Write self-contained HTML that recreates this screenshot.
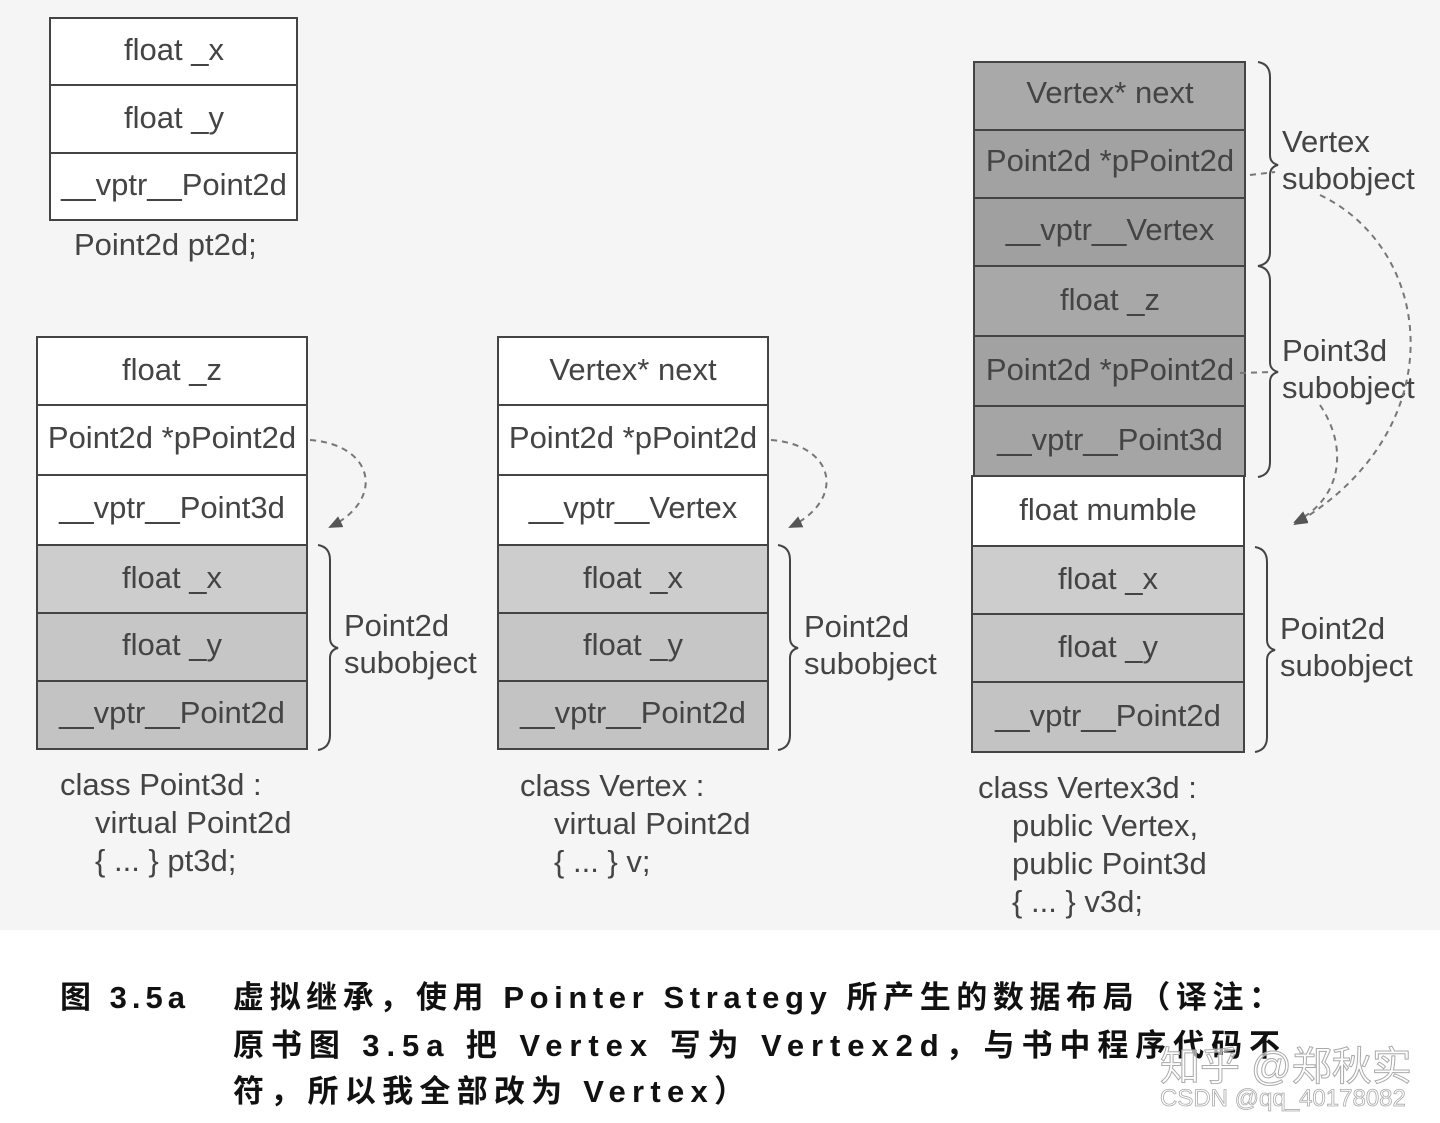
<!DOCTYPE html>
<html><head><meta charset="utf-8"><style>
html,body{margin:0;padding:0;background:#fff;width:1440px;height:1123px;overflow:hidden}
svg{display:block}
.t{font-family:"Liberation Sans",sans-serif;font-size:31px;fill:#444}
.c{font-family:"Liberation Sans","Noto Sans CJK SC",sans-serif;font-size:31px;font-weight:bold;fill:#111}
</style></head><body>
<svg width="1440" height="1123" viewBox="0 0 1440 1123" xmlns="http://www.w3.org/2000/svg">
<defs>
<marker id="ah" markerWidth="14" markerHeight="12" refX="12" refY="6" orient="auto" markerUnits="userSpaceOnUse">
<path d="M0,0 L14,6 L0,12 Z" fill="#555"/></marker>
</defs>
<rect x="0" y="0" width="1440" height="930" fill="#f5f5f5"/>
<g stroke="#444" stroke-width="2">
<rect x="50" y="18" width="247" height="67" fill="#fff"/>
<rect x="50" y="85" width="247" height="68" fill="#fff"/>
<rect x="50" y="153" width="247" height="67" fill="#fff"/>
<rect x="37" y="337" width="270" height="68" fill="#fff"/>
<rect x="37" y="405" width="270" height="70" fill="#fff"/>
<rect x="37" y="475" width="270" height="70" fill="#fff"/>
<rect x="37" y="545" width="270" height="68" fill="#cdcdcd"/>
<rect x="37" y="613" width="270" height="68" fill="#c6c6c6"/>
<rect x="37" y="681" width="270" height="68" fill="#c3c3c3"/>
<rect x="498" y="337" width="270" height="68" fill="#fff"/>
<rect x="498" y="405" width="270" height="70" fill="#fff"/>
<rect x="498" y="475" width="270" height="70" fill="#fff"/>
<rect x="498" y="545" width="270" height="68" fill="#cdcdcd"/>
<rect x="498" y="613" width="270" height="68" fill="#c6c6c6"/>
<rect x="498" y="681" width="270" height="68" fill="#c3c3c3"/>
<rect x="974" y="62" width="271" height="68" fill="#a9a9a9"/>
<rect x="974" y="130" width="271" height="68" fill="#a2a2a2"/>
<rect x="974" y="198" width="271" height="68" fill="#a0a0a0"/>
<rect x="974" y="266" width="271" height="70" fill="#a8a8a8"/>
<rect x="974" y="336" width="271" height="70" fill="#a2a2a2"/>
<rect x="974" y="406" width="271" height="70" fill="#a5a5a5"/>
<rect x="972" y="476" width="272" height="70" fill="#fff"/>
<rect x="972" y="546" width="272" height="68" fill="#cdcdcd"/>
<rect x="972" y="614" width="272" height="68" fill="#c6c6c6"/>
<rect x="972" y="682" width="272" height="70" fill="#c3c3c3"/>
</g>
<g class="t" text-anchor="middle">
<text x="174" y="60">float _x</text>
<text x="174" y="128">float _y</text>
<text x="174" y="195">__vptr__Point2d</text>
<text x="172" y="380">float _z</text>
<text x="172" y="448">Point2d *pPoint2d</text>
<text x="172" y="518">__vptr__Point3d</text>
<text x="172" y="588">float _x</text>
<text x="172" y="655">float _y</text>
<text x="172" y="723">__vptr__Point2d</text>
<text x="633" y="380">Vertex* next</text>
<text x="633" y="448">Point2d *pPoint2d</text>
<text x="633" y="518">__vptr__Vertex</text>
<text x="633" y="588">float _x</text>
<text x="633" y="655">float _y</text>
<text x="633" y="723">__vptr__Point2d</text>
<text x="1110" y="103">Vertex* next</text>
<text x="1110" y="171">Point2d *pPoint2d</text>
<text x="1110" y="240">__vptr__Vertex</text>
<text x="1110" y="310">float _z</text>
<text x="1110" y="380">Point2d *pPoint2d</text>
<text x="1110" y="450">__vptr__Point3d</text>
<text x="1108" y="520">float mumble</text>
<text x="1108" y="589">float _x</text>
<text x="1108" y="657">float _y</text>
<text x="1108" y="726">__vptr__Point2d</text>
</g>
<g class="t">
<text x="74" y="255">Point2d pt2d;</text>
<text x="344" y="636">Point2d</text><text x="344" y="673">subobject</text>
<text x="804" y="637">Point2d</text><text x="804" y="674">subobject</text>
<text x="1282" y="152">Vertex</text><text x="1282" y="189">subobject</text>
<text x="1282" y="361">Point3d</text><text x="1282" y="398">subobject</text>
<text x="1280" y="639">Point2d</text><text x="1280" y="676">subobject</text>
<text x="60" y="795">class Point3d :</text>
<text x="95" y="833">virtual Point2d</text>
<text x="95" y="871">{ ... } pt3d;</text>
<text x="520" y="796">class Vertex :</text>
<text x="554" y="834">virtual Point2d</text>
<text x="554" y="872">{ ... } v;</text>
<text x="978" y="798">class Vertex3d :</text>
<text x="1012" y="836">public Vertex,</text>
<text x="1012" y="874">public Point3d</text>
<text x="1012" y="912">{ ... } v3d;</text>
</g>
<g fill="none" stroke="#444" stroke-width="2">
<path d="M318,545 Q330,547 330,560 L330,638 Q330,646 338,648 Q330,650 330,658 L330,735 Q330,748 318,750"/>
<path d="M778,545 Q790,547 790,560 L790,638 Q790,646 798,648 Q790,650 790,658 L790,735 Q790,748 778,750"/>
<path d="M1258,62 Q1270,64 1270,77 L1270,155 Q1270,163 1278,165 Q1270,167 1270,175 L1270,252 Q1270,264 1258,266 Q1270,268 1270,281 L1270,362 Q1270,370 1278,372 Q1270,374 1270,382 L1270,462 Q1270,475 1258,477"/>
<path d="M1255,547 Q1267,549 1267,562 L1267,640 Q1267,648 1275,650 Q1267,652 1267,660 L1267,737 Q1267,750 1255,752"/>
</g>
<g fill="none" stroke="#777" stroke-width="2" stroke-dasharray="6,5">
<path d="M310,440 C375,445 385,500 330,527" marker-end="url(#ah)"/>
<path d="M771,440 C836,445 846,500 790,527" marker-end="url(#ah)"/>
<path d="M1250,175 L1275,172"/>
<path d="M1320,195 C1435,250 1455,430 1295,524" marker-end="url(#ah)"/>
<path d="M1240,373 L1272,372"/>
<path d="M1320,405 C1350,450 1340,500 1295,522" marker-end="url(#ah)"/>
</g>
<g class="c">
<text x="60" y="1008" textLength="125" lengthAdjust="spacing">图 3.5a</text>
<text x="233" y="1008" textLength="1047" lengthAdjust="spacing">虚拟继承，使用  Pointer Strategy 所产生的数据布局（译注：</text>
<text x="233" y="1056" textLength="1047" lengthAdjust="spacing">原书图 3.5a 把  Vertex  写为  Vertex2d，与书中程序代码不</text>
<text x="233" y="1102" textLength="512" lengthAdjust="spacing">符，所以我全部改为 Vertex）</text>
</g>
<text x="1160" y="1080" font-family="Liberation Sans,'Noto Sans CJK SC',sans-serif" font-size="40" fill="#fff" fill-opacity="0.6" stroke="#aaa" stroke-width="1">知乎 @郑秋实</text>
<text x="1160" y="1106" font-family="Liberation Sans,sans-serif" font-size="24" fill="#fff" stroke="#aaa" stroke-width="0.8">CSDN @qq_40178082</text>
</svg>
</body></html>
